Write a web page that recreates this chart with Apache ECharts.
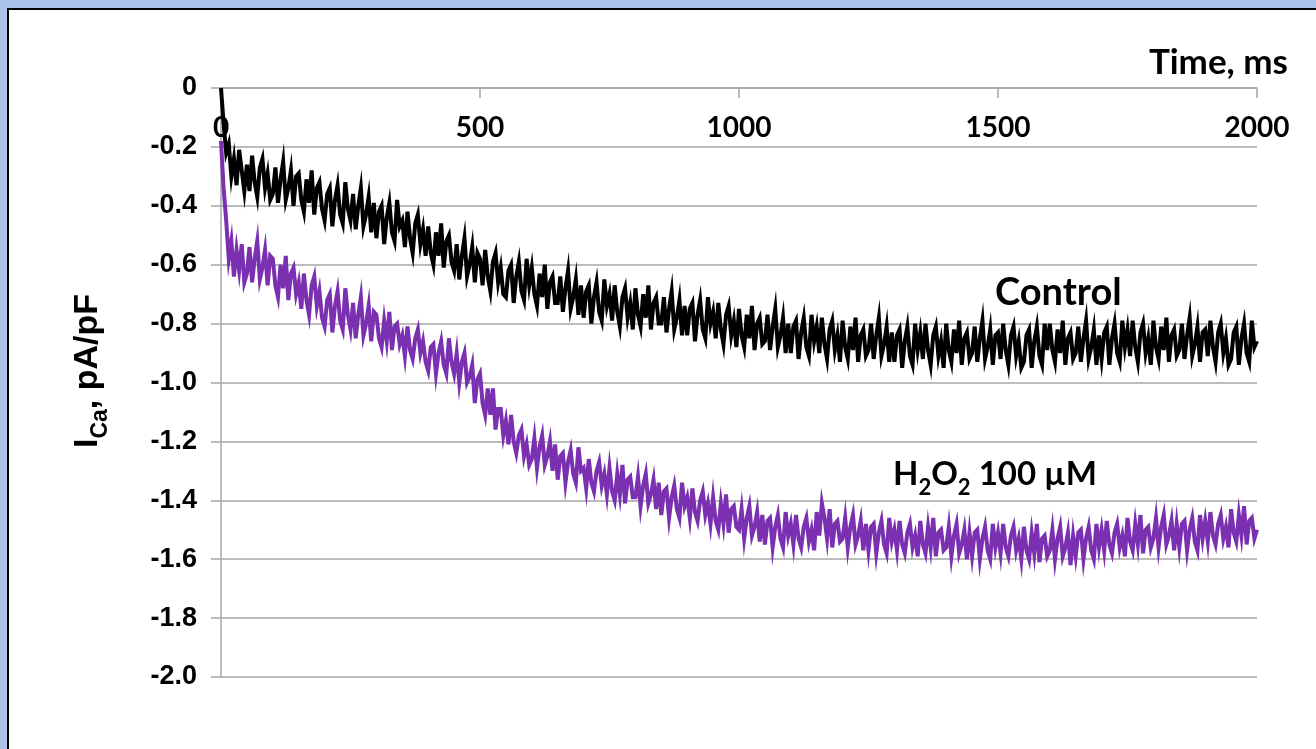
<!DOCTYPE html>
<html>
<head>
<meta charset="utf-8">
<script src="https://cdn.jsdelivr.net/npm/echarts@6/dist/echarts.min.js"></script>
<style>
  html, body { margin: 0; padding: 0; }
  #frame { position: absolute; left: 0; top: 0; width: 1316px; height: 749px; background: #aac2e8; }
  #panel { position: absolute; left: 7px; top: 8px; right: 0; bottom: 0; background: #fff;
           border-left: 2px solid #000; border-top: 2px solid #000; }
  #chart { position: absolute; left: 0; top: 0; width: 1316px; height: 749px; }
</style>
</head>
<body>
<div id="frame"><div id="panel"></div></div>
<div id="chart"></div>
<script>
// sampling times, ms (5 ms steps)
var timeMs = [
  0,5,10,15,20,25,30,35,40,45,50,55,60,65,70,75,80,85,90,95,
  100,105,110,115,120,125,130,135,140,145,150,155,160,165,170,175,180,185,190,195,
  200,205,210,215,220,225,230,235,240,245,250,255,260,265,270,275,280,285,290,295,
  300,305,310,315,320,325,330,335,340,345,350,355,360,365,370,375,380,385,390,395,
  400,405,410,415,420,425,430,435,440,445,450,455,460,465,470,475,480,485,490,495,
  500,505,510,515,520,525,530,535,540,545,550,555,560,565,570,575,580,585,590,595,
  600,605,610,615,620,625,630,635,640,645,650,655,660,665,670,675,680,685,690,695,
  700,705,710,715,720,725,730,735,740,745,750,755,760,765,770,775,780,785,790,795,
  800,805,810,815,820,825,830,835,840,845,850,855,860,865,870,875,880,885,890,895,
  900,905,910,915,920,925,930,935,940,945,950,955,960,965,970,975,980,985,990,995,
  1000,1005,1010,1015,1020,1025,1030,1035,1040,1045,1050,1055,1060,1065,1070,1075,1080,1085,1090,1095,
  1100,1105,1110,1115,1120,1125,1130,1135,1140,1145,1150,1155,1160,1165,1170,1175,1180,1185,1190,1195,
  1200,1205,1210,1215,1220,1225,1230,1235,1240,1245,1250,1255,1260,1265,1270,1275,1280,1285,1290,1295,
  1300,1305,1310,1315,1320,1325,1330,1335,1340,1345,1350,1355,1360,1365,1370,1375,1380,1385,1390,1395,
  1400,1405,1410,1415,1420,1425,1430,1435,1440,1445,1450,1455,1460,1465,1470,1475,1480,1485,1490,1495,
  1500,1505,1510,1515,1520,1525,1530,1535,1540,1545,1550,1555,1560,1565,1570,1575,1580,1585,1590,1595,
  1600,1605,1610,1615,1620,1625,1630,1635,1640,1645,1650,1655,1660,1665,1670,1675,1680,1685,1690,1695,
  1700,1705,1710,1715,1720,1725,1730,1735,1740,1745,1750,1755,1760,1765,1770,1775,1780,1785,1790,1795,
  1800,1805,1810,1815,1820,1825,1830,1835,1840,1845,1850,1855,1860,1865,1870,1875,1880,1885,1890,1895,
  1900,1905,1910,1915,1920,1925,1930,1935,1940,1945,1950,1955,1960,1965,1970,1975,1980,1985,1990,1995,
  2000];

// Control trace, pA/pF
var controlPA = [
  0,-0.12,-0.22,-0.19,-0.30,-0.24,-0.33,-0.21,-0.28,-0.35,
  -0.26,-0.35,-0.23,-0.32,-0.37,-0.27,-0.24,-0.34,-0.29,-0.38,
  -0.36,-0.27,-0.39,-0.31,-0.25,-0.38,-0.34,-0.28,-0.40,-0.30,
  -0.29,-0.38,-0.42,-0.31,-0.39,-0.28,-0.43,-0.34,-0.32,-0.41,
  -0.45,-0.36,-0.34,-0.47,-0.38,-0.33,-0.43,-0.46,-0.32,-0.41,
  -0.45,-0.36,-0.48,-0.40,-0.34,-0.47,-0.43,-0.37,-0.49,-0.39,
  -0.51,-0.42,-0.40,-0.53,-0.44,-0.39,-0.49,-0.52,-0.38,-0.47,
  -0.45,-0.54,-0.42,-0.51,-0.56,-0.46,-0.43,-0.53,-0.48,-0.57,
  -0.47,-0.56,-0.60,-0.49,-0.57,-0.46,-0.61,-0.52,-0.50,-0.59,
  -0.62,-0.53,-0.65,-0.57,-0.51,-0.64,-0.60,-0.54,-0.66,-0.56,
  -0.58,-0.67,-0.55,-0.64,-0.69,-0.59,-0.56,-0.66,-0.61,-0.70,
  -0.71,-0.62,-0.60,-0.73,-0.64,-0.59,-0.69,-0.72,-0.58,-0.67,
  -0.61,-0.70,-0.74,-0.63,-0.71,-0.60,-0.75,-0.66,-0.64,-0.73,
  -0.73,-0.64,-0.76,-0.68,-0.62,-0.75,-0.71,-0.65,-0.77,-0.67,
  -0.78,-0.69,-0.67,-0.80,-0.71,-0.66,-0.76,-0.79,-0.65,-0.74,
  -0.70,-0.79,-0.67,-0.76,-0.81,-0.71,-0.68,-0.78,-0.73,-0.82,
  -0.68,-0.77,-0.81,-0.70,-0.78,-0.67,-0.82,-0.73,-0.71,-0.80,
  -0.80,-0.71,-0.83,-0.75,-0.69,-0.82,-0.78,-0.72,-0.84,-0.74,
  -0.84,-0.75,-0.73,-0.86,-0.77,-0.72,-0.82,-0.85,-0.71,-0.80,
  -0.76,-0.85,-0.73,-0.82,-0.87,-0.77,-0.74,-0.84,-0.79,-0.88,
  -0.75,-0.84,-0.88,-0.77,-0.85,-0.74,-0.89,-0.80,-0.78,-0.87,
  -0.86,-0.77,-0.89,-0.81,-0.75,-0.88,-0.84,-0.78,-0.90,-0.80,
  -0.90,-0.81,-0.79,-0.92,-0.83,-0.78,-0.88,-0.91,-0.77,-0.86,
  -0.81,-0.90,-0.78,-0.87,-0.92,-0.82,-0.79,-0.89,-0.84,-0.93,
  -0.79,-0.88,-0.92,-0.81,-0.89,-0.78,-0.93,-0.84,-0.82,-0.91,
  -0.89,-0.80,-0.92,-0.84,-0.78,-0.91,-0.87,-0.81,-0.93,-0.83,
  -0.93,-0.84,-0.82,-0.95,-0.86,-0.81,-0.91,-0.94,-0.80,-0.89,
  -0.83,-0.92,-0.80,-0.89,-0.94,-0.84,-0.81,-0.91,-0.86,-0.95,
  -0.80,-0.89,-0.93,-0.82,-0.90,-0.79,-0.94,-0.85,-0.83,-0.92,
  -0.90,-0.81,-0.93,-0.85,-0.79,-0.92,-0.88,-0.82,-0.94,-0.84,
  -0.83,-0.92,-0.80,-0.89,-0.94,-0.84,-0.81,-0.91,-0.86,-0.95,
  -0.93,-0.84,-0.82,-0.95,-0.86,-0.81,-0.91,-0.94,-0.80,-0.89,
  -0.80,-0.89,-0.93,-0.82,-0.90,-0.79,-0.94,-0.85,-0.83,-0.92,
  -0.90,-0.81,-0.93,-0.85,-0.79,-0.92,-0.88,-0.82,-0.94,-0.84,
  -0.92,-0.83,-0.81,-0.94,-0.85,-0.80,-0.90,-0.93,-0.79,-0.88,
  -0.82,-0.91,-0.79,-0.88,-0.93,-0.83,-0.80,-0.90,-0.85,-0.94,
  -0.79,-0.88,-0.92,-0.81,-0.89,-0.78,-0.93,-0.84,-0.82,-0.91,
  -0.89,-0.80,-0.92,-0.84,-0.78,-0.91,-0.87,-0.81,-0.93,-0.83,
  -0.82,-0.91,-0.79,-0.88,-0.93,-0.83,-0.80,-0.90,-0.85,-0.94,
  -0.92,-0.83,-0.81,-0.94,-0.85,-0.80,-0.90,-0.93,-0.79,-0.88,
  -0.86];

// H2O2 100 uM trace, pA/pF
var h2o2PA = [
  -0.18,-0.34,-0.45,-0.58,-0.52,-0.64,-0.55,-0.62,-0.53,-0.66,
  -0.63,-0.54,-0.66,-0.58,-0.52,-0.65,-0.61,-0.55,-0.67,-0.57,
  -0.58,-0.67,-0.71,-0.60,-0.68,-0.57,-0.72,-0.63,-0.61,-0.70,
  -0.66,-0.75,-0.63,-0.72,-0.77,-0.67,-0.64,-0.74,-0.69,-0.78,
  -0.81,-0.72,-0.70,-0.83,-0.74,-0.69,-0.79,-0.82,-0.68,-0.77,
  -0.82,-0.73,-0.85,-0.77,-0.71,-0.84,-0.80,-0.74,-0.86,-0.76,
  -0.77,-0.85,-0.88,-0.79,-0.86,-0.76,-0.89,-0.81,-0.80,-0.87,
  -0.84,-0.91,-0.81,-0.89,-0.92,-0.85,-0.82,-0.90,-0.86,-0.93,
  -0.96,-0.88,-0.87,-0.97,-0.90,-0.86,-0.94,-0.97,-0.85,-0.93,
  -0.97,-0.90,-1.00,-0.93,-0.90,-1.00,-0.98,-0.94,-1.07,-0.99,
  -0.97,-1.07,-1.11,-1.02,-1.11,-1.02,-1.16,-1.09,-1.09,-1.18,
  -1.13,-1.21,-1.11,-1.20,-1.24,-1.18,-1.16,-1.25,-1.21,-1.28,
  -1.26,-1.19,-1.29,-1.22,-1.18,-1.28,-1.25,-1.20,-1.30,-1.21,
  -1.33,-1.25,-1.24,-1.34,-1.27,-1.23,-1.31,-1.34,-1.22,-1.30,
  -1.29,-1.36,-1.26,-1.34,-1.37,-1.30,-1.27,-1.35,-1.31,-1.38,
  -1.29,-1.37,-1.40,-1.31,-1.38,-1.28,-1.41,-1.33,-1.32,-1.39,
  -1.39,-1.32,-1.42,-1.35,-1.31,-1.41,-1.38,-1.33,-1.43,-1.34,
  -1.45,-1.37,-1.36,-1.46,-1.39,-1.35,-1.43,-1.46,-1.34,-1.42,
  -1.39,-1.46,-1.36,-1.44,-1.47,-1.40,-1.37,-1.45,-1.41,-1.48,
  -1.39,-1.47,-1.50,-1.41,-1.48,-1.38,-1.51,-1.43,-1.42,-1.49,
  -1.50,-1.43,-1.53,-1.46,-1.42,-1.52,-1.49,-1.44,-1.54,-1.45,
  -1.55,-1.47,-1.46,-1.56,-1.49,-1.45,-1.53,-1.56,-1.44,-1.52,
  -1.48,-1.55,-1.45,-1.53,-1.56,-1.49,-1.46,-1.54,-1.50,-1.57,
  -1.44,-1.52,-1.41,-1.46,-1.53,-1.43,-1.56,-1.48,-1.47,-1.54,
  -1.53,-1.46,-1.56,-1.49,-1.45,-1.55,-1.52,-1.47,-1.57,-1.48,
  -1.57,-1.49,-1.48,-1.58,-1.51,-1.47,-1.55,-1.58,-1.46,-1.54,
  -1.50,-1.57,-1.47,-1.55,-1.58,-1.51,-1.48,-1.56,-1.52,-1.59,
  -1.47,-1.55,-1.58,-1.49,-1.56,-1.46,-1.59,-1.51,-1.50,-1.57,
  -1.56,-1.49,-1.59,-1.52,-1.48,-1.58,-1.55,-1.50,-1.60,-1.51,
  -1.59,-1.51,-1.50,-1.60,-1.53,-1.49,-1.57,-1.60,-1.48,-1.56,
  -1.51,-1.58,-1.48,-1.56,-1.59,-1.52,-1.49,-1.57,-1.53,-1.60,
  -1.49,-1.57,-1.60,-1.51,-1.58,-1.48,-1.61,-1.53,-1.52,-1.59,
  -1.57,-1.50,-1.60,-1.53,-1.49,-1.59,-1.56,-1.51,-1.62,-1.52,
  -1.59,-1.51,-1.50,-1.60,-1.53,-1.49,-1.57,-1.60,-1.48,-1.56,
  -1.50,-1.57,-1.47,-1.55,-1.58,-1.51,-1.48,-1.56,-1.52,-1.59,
  -1.46,-1.54,-1.57,-1.48,-1.55,-1.45,-1.58,-1.50,-1.49,-1.56,
  -1.53,-1.46,-1.56,-1.49,-1.45,-1.55,-1.52,-1.47,-1.57,-1.48,
  -1.56,-1.48,-1.47,-1.57,-1.50,-1.46,-1.54,-1.57,-1.45,-1.53,
  -1.47,-1.54,-1.44,-1.52,-1.55,-1.48,-1.45,-1.53,-1.49,-1.56,
  -1.43,-1.51,-1.54,-1.45,-1.52,-1.42,-1.55,-1.47,-1.46,-1.53,
  -1.50];

var chart = echarts.init(document.getElementById('chart'));

function pairs(vals) {
  return timeMs.map(function (t, i) { return [t, vals[i]]; });
}

var labelFont = 'Lato, "Open Sans", sans-serif';
var arialFont = '"Liberation Sans", Arial, sans-serif';
var gridGrey = '#a6a6a6';

var option = {
  animation: false,
  grid: { left: 221, right: 59, top: 88, bottom: 72, containLabel: false },
  xAxis: {
    type: 'value',
    position: 'top',
    min: 0, max: 2000, interval: 500,
    axisLine: { show: true, onZero: false, lineStyle: { color: gridGrey, width: 1.5 } },
    axisTick: { show: true, inside: true, length: 10, lineStyle: { color: gridGrey, width: 1.5 } },
    axisLabel: {
      inside: true, margin: 26,
      fontFamily: labelFont, fontWeight: 'bold', fontSize: 28, color: '#000',
      formatter: function (v) { return String(v); }
    },
    splitLine: { show: false }
  },
  yAxis: {
    type: 'value',
    min: -2, max: 0, interval: 0.2,
    axisLine: { show: true, onZero: false, lineStyle: { color: gridGrey, width: 1.5 } },
    axisTick: { show: true, length: 10, lineStyle: { color: gridGrey, width: 1.5 } },
    axisLabel: {
      margin: 24,
      fontFamily: arialFont, fontWeight: 'bold', fontSize: 27, color: '#000',
      formatter: function (v) { return v === 0 ? '0' : v.toFixed(1); }
    },
    splitLine: { show: true, lineStyle: { color: gridGrey, width: 1.5 } }
  },
  graphic: [
    { type: 'text', x: 105, y: 371, rotation: Math.PI / 2,
      style: {
        text: '{m|I}{s|Ca}{m|, pA/pF}', align: 'center', verticalAlign: 'bottom',
        rich: {
          m: { fontFamily: arialFont, fontWeight: 'bold', fontSize: 34, fill: '#000' },
          s: { fontFamily: arialFont, fontWeight: 'bold', fontSize: 23, fill: '#000', verticalAlign: 'bottom', padding: [0, 0, -7, 0] }
        }
      } },
    { type: 'text', right: 28, top: 45,
      style: { text: 'Time, ms', fontFamily: labelFont, fontWeight: 'bold', fontSize: 35, fill: '#000' } },
    { type: 'text', left: 995, top: 274,
      style: { text: 'Control', fontFamily: labelFont, fontWeight: 'bold', fontSize: 38, fill: '#000' } },
    { type: 'text', left: 893, top: 458,
      style: {
        text: '{m|H}{s|2}{m|O}{s|2}{m| 100 µM}',
        rich: {
          m: { fontFamily: labelFont, fontWeight: 'bold', fontSize: 33, fill: '#000' },
          s: { fontFamily: labelFont, fontWeight: 'bold', fontSize: 22, fill: '#000', verticalAlign: 'bottom', padding: [0, 0, -8, 0] }
        }
      } }
  ],
  series: [
    {
      name: 'H2O2 100 µM', type: 'line', data: pairs(h2o2PA),
      showSymbol: false, lineStyle: { color: '#7a30b0', width: 4, join: 'miter' }
    },
    {
      name: 'Control', type: 'line', data: pairs(controlPA),
      showSymbol: false, lineStyle: { color: '#000000', width: 4, join: 'miter' }
    }
  ]
};

chart.setOption(option);
</script>
</body>
</html>
